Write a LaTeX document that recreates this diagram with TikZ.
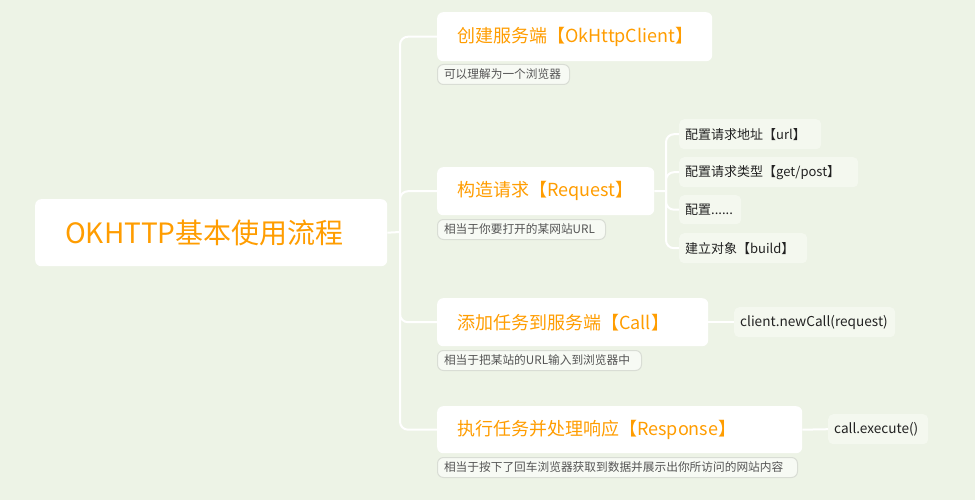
\documentclass[tikz,border=0pt]{standalone}
\usepackage{fontspec}
\setmainfont{Noto Sans CJK SC}
\definecolor{bg}{HTML}{EDF3E6}
\definecolor{orng}{HTML}{FF9D00}
\definecolor{subfill}{HTML}{F4F8EF}
\definecolor{notefill}{HTML}{F7FAF4}
\definecolor{notedraw}{HTML}{D9DDD5}
\definecolor{notetext}{HTML}{555555}
\definecolor{subtext}{HTML}{222222}
\begin{document}
\begin{tikzpicture}[x=1pt,y=-1pt,
  mainbox/.style={fill=white, rounded corners=6pt, anchor=north west, inner xsep=20pt, inner ysep=0pt, align=left, text=orng, font=\fontsize{18}{22}\selectfont},
  rootbox/.style={fill=white, rounded corners=6pt, anchor=north west, inner xsep=30pt, inner ysep=0pt, align=left, text=orng, font=\fontsize{28}{32}\selectfont},
  subbox/.style={fill=subfill, rounded corners=5pt, anchor=north west, inner xsep=6pt, inner ysep=0pt, align=left, text=subtext, font=\fontsize{13}{16}\selectfont},
  codebox/.style={subbox, font=\fontsize{13.6}{16}\selectfont},
  notebox/.style={fill=notefill, draw=notedraw, line width=1pt, rounded corners=6pt, anchor=north west, inner xsep=6.5pt, inner ysep=0pt, align=left, text=notetext, font=\fontsize{11.7}{14}\selectfont},
  conn/.style={draw=white, line width=2pt, rounded corners=8pt}
]
\fill[bg] (0,0) rectangle (975,500);
\useasboundingbox (0,0) rectangle (975,500);

\node[rootbox, text width=292pt, minimum height=67pt] (root) at (35,199) {OKHTTP基本使用流程};

\node[mainbox, text width=235pt, minimum height=49pt] (b1) at (437,12) {创建服务端【OkHttpClient】};
\node[notebox, text width=119pt, minimum height=20pt] (n1) at (437,64) {可以理解为一个浏览器};

\node[mainbox, text width=177pt, minimum height=48pt] (b2) at (437,167) {构造请求【Request】};
\node[notebox, text width=155pt, minimum height=20pt] (n2) at (437,219) {相当于你要打开的某网站URL};

\node[subbox, text width=130pt, minimum height=30pt] (s1) at (679,119) {配置请求地址【url】};
\node[subbox, text width=167pt, minimum height=30pt] (s2) at (679,157) {配置请求类型【get/post】};
\node[subbox, text width=50pt, minimum height=29pt] (s3) at (679,195) {配置......};
\node[subbox, text width=116pt, minimum height=30pt] (s4) at (679,233) {建立对象【build】};

\node[mainbox, text width=231pt, minimum height=48pt] (b3) at (437,298) {添加任务到服务端【Call】};
\node[notebox, text width=191pt, minimum height=20pt] (n3) at (437,350) {相当于把某站的URL输入到浏览器中};
\node[codebox, text width=149pt, minimum height=30pt] (c1) at (734,307) {client.newCall(request)};

\node[mainbox, text width=325pt, minimum height=47pt] (b4) at (437,406) {执行任务并处理响应【Response】};
\node[notebox, text width=347pt, minimum height=20pt] (n4) at (437,457) {相当于按下了回车浏览器获取到数据并展示出你所访问的网站内容};
\node[codebox, text width=88pt, minimum height=30pt] (c2) at (828,414) {call.execute()};

\coordinate (trunk) at (400,232);
\coordinate (subtrunk) at (666,191);

\draw[conn] (root.east) -- (trunk);
\draw[conn] (trunk) |- (b1.west);
\draw[conn] (trunk) |- (b2.west);
\draw[conn] (trunk) |- (b3.west);
\draw[conn] (trunk) |- (b4.west);

\draw[conn] (b2.east) -- (subtrunk);
\draw[conn] (subtrunk) |- (s1.west);
\draw[conn] (subtrunk) |- (s2.west);
\draw[conn] (subtrunk) |- (s3.west);
\draw[conn] (subtrunk) |- (s4.west);

\draw[conn] (b3.east) -- (c1.west);
\draw[conn] (b4.east) -- (c2.west);
\end{tikzpicture}
\end{document}
